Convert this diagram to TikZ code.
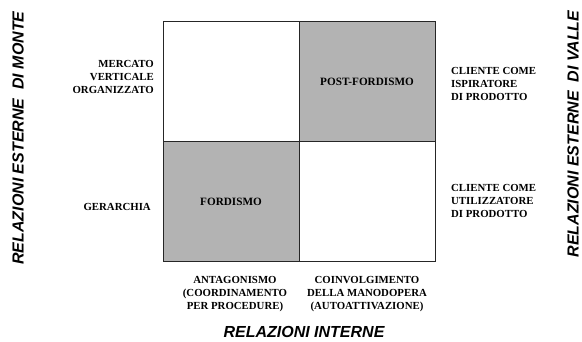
\documentclass[tikz,border=0pt]{standalone}
\usepackage{fontspec}
\setmainfont{Liberation Serif}
\newfontfamily\axisfont{Liberation Sans}
\usepackage{tikz}
\usetikzlibrary{positioning}
\definecolor{cellgray}{HTML}{B3B3B3}
\tikzset{
  cell/.style={draw=black!85, line width=1pt, minimum width=136pt, minimum height=120pt,
    inner sep=0pt, font=\bfseries\fontsize{11.2}{13.3}\selectfont},
  lbl/.style={inner sep=0pt, font=\bfseries\fontsize{10.8}{13.3}\selectfont},
  axis/.style={inner sep=0pt, font=\axisfont\bfseries\itshape\fontsize{16}{19}\selectfont}
}

\begin{document}
\begin{tikzpicture}[x=1pt, y=-1pt]
         \useasboundingbox (0,0) rectangle (582,342);
         % the four cells
         \node [cell] (LT) at (231, 82) {};
         \node [cell, fill=cellgray] (RT) at (367, 82) {POST-FORDISMO};
         \node [cell, fill=cellgray] (LB) at (231, 202) {FORDISMO};
         \node [cell] (RB) at (367, 202) {};
         % left side
         \node [lbl, align=right, anchor=east] (mercato) at (154, 77) {MERCATO\\VERTICALE\\ORGANIZZATO};
         \node [lbl, anchor=east] (gerarchia) at (151, 207) {GERARCHIA};
         % right side
         \node [lbl, align=left, anchor=west] (ispiratore) at (451, 84) {CLIENTE COME\\ISPIRATORE\\DI PRODOTTO};
         \node [lbl, align=left, anchor=west] (utilizzatore) at (451, 201) {CLIENTE COME\\UTILIZZATORE\\DI PRODOTTO};
         % bottom
         \node [lbl, align=center, font=\bfseries\fontsize{10.8}{12.7}\selectfont] (antag) at (235, 294) {ANTAGONISMO\\(COORDINAMENTO\\PER PROCEDURE)};
         \node [lbl, align=center, font=\bfseries\fontsize{10.8}{12.7}\selectfont] (coinv) at (367, 294) {COINVOLGIMENTO\\DELLA MANODOPERA\\(AUTOATTIVAZIONE)};
         % axis titles
         \node [axis] (interne) at (304, 332) {RELAZIONI INTERNE};
         \node [axis, rotate=90] (monte) at (18, 138) {RELAZIONI ESTERNE\ \ DI MONTE};
         \node [axis, rotate=90] (valle) at (573, 134) {RELAZIONI ESTERNE\ \ DI VALLE};
\end{tikzpicture}
\end{document}
